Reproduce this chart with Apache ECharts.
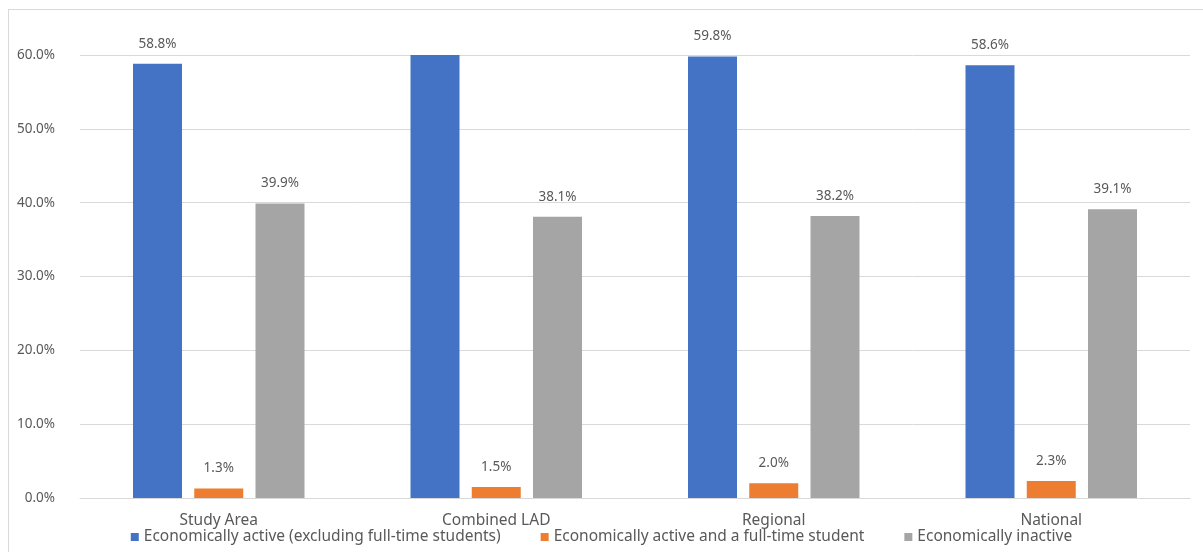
<!DOCTYPE html>
<html>
<head>
<meta charset="utf-8">
<script src="https://cdn.jsdelivr.net/npm/echarts@6/dist/echarts.min.js"></script>
<style>
  html, body { margin: 0; padding: 0; background: #fff; }
  #frame {
    position: absolute; left: 8px; top: 9px; width: 1300px; height: 700px;
    border-left: 1px solid #d9d9d9; border-top: 1px solid #d9d9d9;
  }
  #chart { position: absolute; left: 0; top: 0; width: 1203px; height: 552px; }
</style>
</head>
<body>
<div id="frame"></div>
<div id="chart"></div>
<script>
const chart = echarts.init(document.getElementById('chart'));

const areas = ["Study Area", "Combined LAD", "Regional", "National"];

const activeExclStudents = [58.8, 60.4, 59.8, 58.6];
const activeStudents = [1.3, 1.5, 2.0, 2.3];
const inactive = [39.9, 38.1, 38.2, 39.1];

const seriesNames = [
  "Economically active (excluding full-time students)",
  "Economically active and a full-time student",
  "Economically inactive"
];

const colors = ['#4472C4', '#ED7D31', '#A5A5A5'];

const yMax = 60;

const numStyle = {
  color: '#595959',
  fontSize: 13.5,
  fontFamily: 'Noto Sans'
};

const wordStyle = {
  color: '#595959',
  fontSize: 15.5,
  fontFamily: 'Noto Sans'
};

// bars taller than the axis get no label, as in the original
function toData(values) {
  return values.map(function (v) {
    if (v > yMax) {
      return { value: v, label: { show: false } };
    }
    return v;
  });
}

function makeSeries(name, values, color) {
  return {
    name: name,
    type: 'bar',
    data: toData(values),
    barWidth: 49,
    barGap: '25%',
    itemStyle: { color: color },
    label: Object.assign({
      show: true,
      position: 'top',
      distance: 13,
      formatter: function (p) {
        return p.value.toFixed(1) + '%';
      }
    }, numStyle)
  };
}

const option = {
  animation: false,
  grid: {
    left: 80,
    right: 13,
    top: 55,
    bottom: 54
  },
  legend: {
    bottom: 2,
    left: 'center',
    itemWidth: 8,
    itemHeight: 8,
    itemGap: 40,
    icon: 'rect',
    textStyle: wordStyle
  },
  xAxis: {
    type: 'category',
    data: areas,
    axisLine: { lineStyle: { color: '#d9d9d9' } },
    axisTick: { show: false },
    axisLabel: Object.assign({ margin: 15 }, wordStyle)
  },
  yAxis: {
    type: 'value',
    min: 0,
    max: yMax,
    interval: 10,
    axisLine: { show: false },
    axisTick: { show: false },
    splitLine: { lineStyle: { color: '#d9d9d9' } },
    axisLabel: Object.assign({
      margin: 25,
      formatter: function (v) { return v.toFixed(1) + '%'; }
    }, numStyle)
  },
  series: [
    makeSeries(seriesNames[0], activeExclStudents, colors[0]),
    makeSeries(seriesNames[1], activeStudents, colors[1]),
    makeSeries(seriesNames[2], inactive, colors[2])
  ]
};

chart.setOption(option);
</script>
</body>
</html>
